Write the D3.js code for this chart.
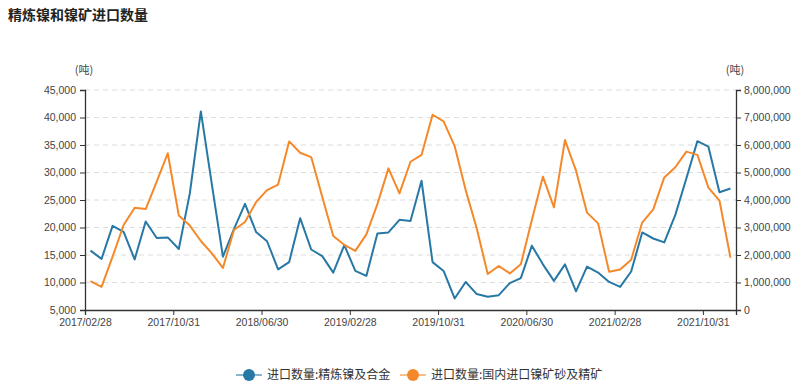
<!DOCTYPE html>
<html>
<head>
<meta charset="utf-8">
<script src="https://cdn.jsdelivr.net/npm/d3@7"></script>
<style>
  body { margin: 0; background: #fff; }
  svg text { font-family: "Noto Sans CJK SC", "Noto Sans", sans-serif; }
  svg .tick text { font-family: "Liberation Sans", Arial, sans-serif; }
</style>
</head>
<body>
<svg id="chart" width="811" height="390"></svg>
<script>
// month-end dates, 2017/02 .. 2021/12
var months = [
  "2017/02/28","2017/03/31","2017/04/30","2017/05/31","2017/06/30","2017/07/31","2017/08/31","2017/09/30","2017/10/31","2017/11/30","2017/12/31",
  "2018/01/31","2018/02/28","2018/03/31","2018/04/30","2018/05/31","2018/06/30","2018/07/31","2018/08/31","2018/09/30","2018/10/31","2018/11/30","2018/12/31",
  "2019/01/31","2019/02/28","2019/03/31","2019/04/30","2019/05/31","2019/06/30","2019/07/31","2019/08/31","2019/09/30","2019/10/31","2019/11/30","2019/12/31",
  "2020/01/31","2020/02/29","2020/03/31","2020/04/30","2020/05/31","2020/06/30","2020/07/31","2020/08/31","2020/09/30","2020/10/31","2020/11/30","2020/12/31",
  "2021/01/31","2021/02/28","2021/03/31","2021/04/30","2021/05/31","2021/06/30","2021/07/31","2021/08/31","2021/09/30","2021/10/31","2021/11/30","2021/12/31"
];

// 进口数量:精炼镍及合金 (left axis)
var refined = [
  15800,14300,20300,19200,14200,21100,18100,18200,16100,26200,41100,
  27800,14700,19700,24300,19200,17500,12400,13700,21700,16000,14800,11800,
  16800,12100,11200,18900,19100,21400,21200,28500,13700,12100,7100,10100,
  7900,7400,7700,9900,10800,16700,13300,10300,13300,8400,12900,11800,
  10100,9200,12000,19100,18000,17300,22300,28900,35700,34700,26400,27100
];

// 进口数量:国内进口镍矿砂及精矿 (right axis)
var ore = [
  1050000,840000,1940000,3090000,3720000,3670000,4670000,5700000,3440000,3070000,2510000,
  2060000,1530000,2910000,3200000,3920000,4360000,4560000,6130000,5720000,5560000,4120000,2690000,
  2370000,2150000,2750000,3850000,5150000,4240000,5390000,5640000,7100000,6860000,5960000,4360000,
  2970000,1310000,1600000,1330000,1660000,3270000,4850000,3730000,6180000,5070000,3540000,3150000,
  1390000,1470000,1830000,3180000,3660000,4820000,5190000,5760000,5640000,4450000,3980000,1900000
];

var leftTicks = [5000,10000,15000,20000,25000,30000,35000,40000,45000];
var rightTicks = [0,1000000,2000000,3000000,4000000,5000000,6000000,7000000,8000000];
var seriesNames = ["进口数量:精炼镍及合金", "进口数量:国内进口镍矿砂及精矿"];
var colors = ["#2878a6", "#f5892a"];

var svg = d3.select("#chart");
var plotLeft = 85, plotRight = 736, plotTop = 90, plotBottom = 310;

// index scale: each month is a slot, points in the middle
var x = d3.scaleLinear().domain([0, months.length]).range([plotLeft, plotRight]);
var yL = d3.scaleLinear().domain([5000, 45000]).range([plotBottom, plotTop]);
var yR = d3.scaleLinear().domain([0, 8000000]).range([plotBottom, plotTop]);

svg.append("text")
  .attr("x", 8).attr("y", 20)
  .style("font-size", "14px").style("font-weight", "bold").style("fill", "#222")
  .text("精炼镍和镍矿进口数量");

// grid
svg.append("g").selectAll("line")
  .data(leftTicks.slice(1))
  .enter().append("line")
  .attr("x1", plotLeft).attr("x2", plotRight)
  .attr("y1", function(d) { return yL(d); })
  .attr("y2", function(d) { return yL(d); })
  .style("stroke", "#dcdcdc").style("stroke-dasharray", "5,4");

var fmt = d3.format(",");

var gl = svg.append("g").attr("transform", "translate(" + plotLeft + ",0)")
  .call(d3.axisLeft(yL).tickValues(leftTicks).tickFormat(fmt).tickSizeOuter(0).tickSize(5).tickPadding(4));
var gr = svg.append("g").attr("transform", "translate(" + plotRight + ",0)")
  .call(d3.axisRight(yR).tickValues(rightTicks).tickFormat(fmt).tickSizeOuter(0).tickSize(5).tickPadding(3));
var xTicks = d3.range(0, months.length, 8);
var gb = svg.append("g").attr("transform", "translate(0," + plotBottom + ")")
  .call(d3.axisBottom(x).tickValues(xTicks).tickFormat(function(i) { return months[i]; })
    .tickSizeOuter(0).tickSize(5).tickPadding(4));

[gl, gr, gb].forEach(function(g) {
  g.selectAll("path, line").style("stroke", "#333");
  g.selectAll("text").style("font-size", "10.5px").style("fill", "#444");
  g.select(".domain").style("stroke-width", 1.3);
});

svg.append("text").attr("x", 84).attr("y", 74).attr("text-anchor", "middle")
  .style("font-size", "11px").style("fill", "#444").text("(吨)");
svg.append("text").attr("x", 735).attr("y", 74).attr("text-anchor", "middle")
  .style("font-size", "11px").style("fill", "#444").text("(吨)");

function addLine(values, yScale, color) {
  var line = d3.line()
    .x(function(d, i) { return x(i + 0.5); })
    .y(function(d) { return yScale(d); });
  svg.append("path")
    .datum(values)
    .attr("d", line)
    .style("fill", "none")
    .style("stroke", color)
    .style("stroke-width", 2)
    .style("stroke-linejoin", "round");
}
addLine(refined, yL, colors[0]);
addLine(ore, yR, colors[1]);

// legend
var legendX = [236, 400];
var lg = svg.append("g").selectAll("g")
  .data(seriesNames)
  .enter().append("g")
  .attr("transform", function(d, i) { return "translate(" + legendX[i] + ",375)"; });
lg.append("line").attr("x1", 0).attr("x2", 26)
  .style("stroke", function(d, i) { return colors[i]; })
  .style("stroke-width", 2).style("opacity", 0.55);
lg.append("circle").attr("cx", 13).attr("r", 6)
  .style("fill", function(d, i) { return colors[i]; });
lg.append("text").attr("x", 31).attr("dy", "0.35em")
  .style("font-size", "12px").style("fill", "#333")
  .text(function(d) { return d; });
</script>
</body>
</html>
